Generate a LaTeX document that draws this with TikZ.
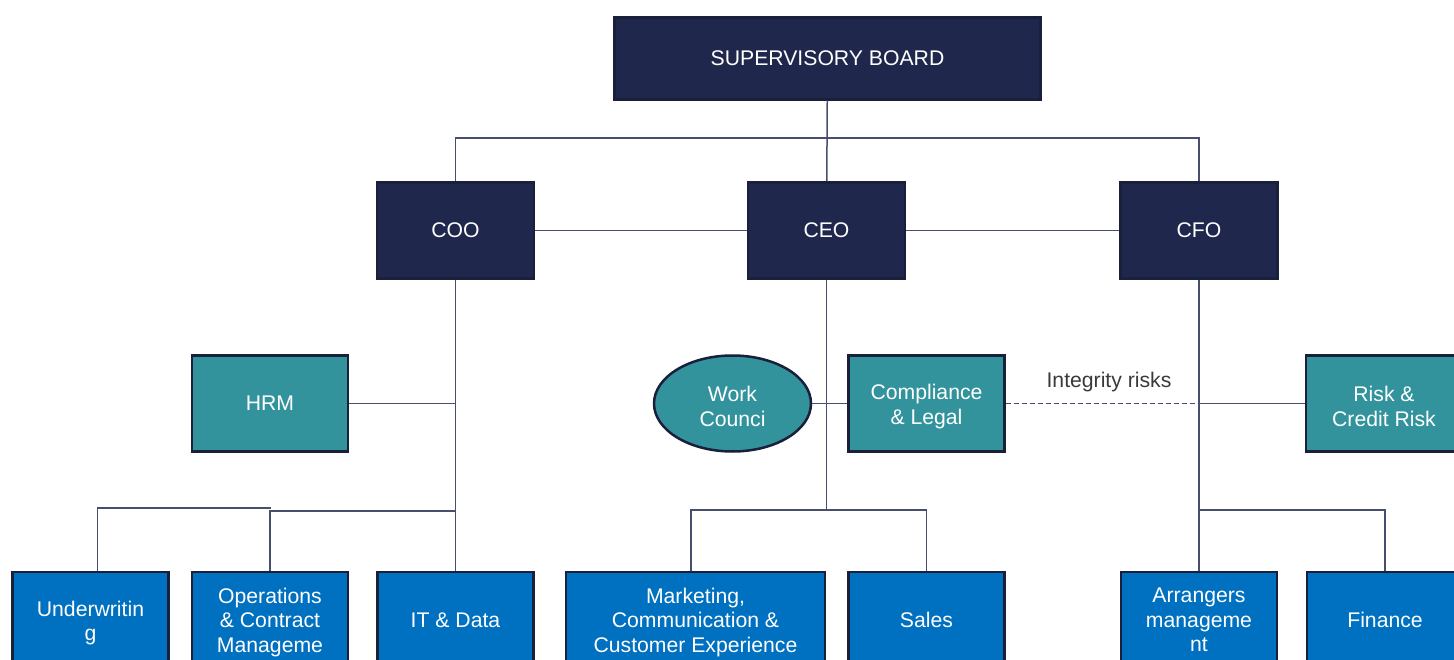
\documentclass[tikz,border=0pt]{standalone}
\usepackage{fontspec}
\setmainfont{Liberation Sans}
\usetikzlibrary{shapes.geometric}

\definecolor{boardnavy}{RGB}{32,39,76}
\definecolor{unitteal}{RGB}{50,147,157}
\definecolor{deptblue}{RGB}{0,112,192}
\definecolor{edgenavy}{RGB}{26,31,58}
\definecolor{linkgrey}{RGB}{72,78,110}
\definecolor{notegrey}{RGB}{58,58,58}

\tikzset{every picture/.style={line width=0.75pt}}
\tikzset{
  orgbox/.style={draw=edgenavy, line width=2.5, text=white, align=center, inner sep=0pt, font=\fontsize{21.2}{24.5}\selectfont},
  board/.style={orgbox, fill=boardnavy, minimum width=426, minimum height=82},
  exec/.style={orgbox, fill=boardnavy, minimum width=157, minimum height=96},
  staff/.style={orgbox, fill=unitteal, minimum width=156, minimum height=96},
  dept/.style={orgbox, fill=deptblue, minimum width=156, minimum height=96},
  link/.style={draw=linkgrey, line width=1.5},
}

\begin{document}
\begin{tikzpicture}[x=1pt,y=1pt,yscale=-1]
\useasboundingbox (0,0) rectangle (1454,660);

% Board and executives
\node [board] (board) at (827.5,58.5) {SUPERVISORY BOARD};
\node [exec] (coo) at (455.5,230.5) {COO};
\node [exec] (ceo) at (826.5,230.5) {CEO};
\node [exec] (cfo) at (1199,230.5) {CFO};

% Staff units
\node [staff] (hrm) at (270,403.5) {HRM};
\node [staff, ellipse, minimum width=157, minimum height=96] (wc) at (732.5,403.5) {\rule{0pt}{21pt}Work\\Counci};
\node [staff] (comp) at (926.5,403.5) {\rule{0pt}{21pt}Compliance\\\& Legal};
\node [staff] (risk) at (1384,403.5) {\rule{0pt}{21pt}Risk \&\\Credit Risk};

% Departments
\node [dept] (uw) at (90.5,620) {\rule{0pt}{21pt}Underwritin\\g};
\node [dept] (ops) at (270,620) {\rule{0pt}{19.5pt}Operations\\\& Contract\\Manageme};
\node [dept] (itd) at (455.5,620) {IT \& Data};
\node [dept, minimum width=259] (mkt) at (695.5,620) {\rule{0pt}{19.5pt}Marketing,\\Communication \&\\Customer Experience};
\node [dept] (sales) at (926.5,620) {Sales};
\node [dept] (arr) at (1199,620) {Arrangers\\manageme\\nt};
\node [dept] (fin) at (1385,620) {Finance};

% Bar coordinates
\coordinate (topbar) at (827,138);
\coordinate (uwbar) at (271,508);
\coordinate (uwdrop) at (97.5,508);
\coordinate (opsbar) at (455.5,511);
\coordinate (ceobar) at (826.5,510);
\coordinate (mktdrop) at (691,510);
\coordinate (cfobar) at (1199,510);

%Straight Lines
\draw [link] (board) -- (ceo);
\draw [link] (coo.north) |- (topbar) -| (cfo.north);
\draw [link] (coo) -- (ceo) -- (cfo);
%Straight Lines
\draw [link] (coo.south) -- (itd.north);
\draw [link] (hrm.east) -- (hrm.east -| coo.south);
\draw [link] (ops.north) |- (opsbar);
\draw [link] (uwdrop |- uw.north) -- (uwdrop) -- (uwbar);
%Straight Lines
\draw [link] (ceo.south) -- (ceobar);
\draw [link] (mktdrop |- mkt.north) -- (mktdrop) -| (sales.north);
\draw [link] (wc.east) -- (comp.west);
%Straight Lines
\draw [link, dash pattern={on 5pt off 3pt}] (comp.east) -- (comp.east -| cfo.south);
\draw [link] (comp.east -| cfo.south) -- (risk.west);
\draw [link] (cfo.south) -- (arr.north);
\draw [link] (cfobar) -| (fin.north);

% Text Node
\node [text=notegrey, inner sep=0pt, font=\fontsize{21.2}{24.5}\selectfont] (integrity) at (1109,382) {Integrity risks};
\end{tikzpicture}
\end{document}
